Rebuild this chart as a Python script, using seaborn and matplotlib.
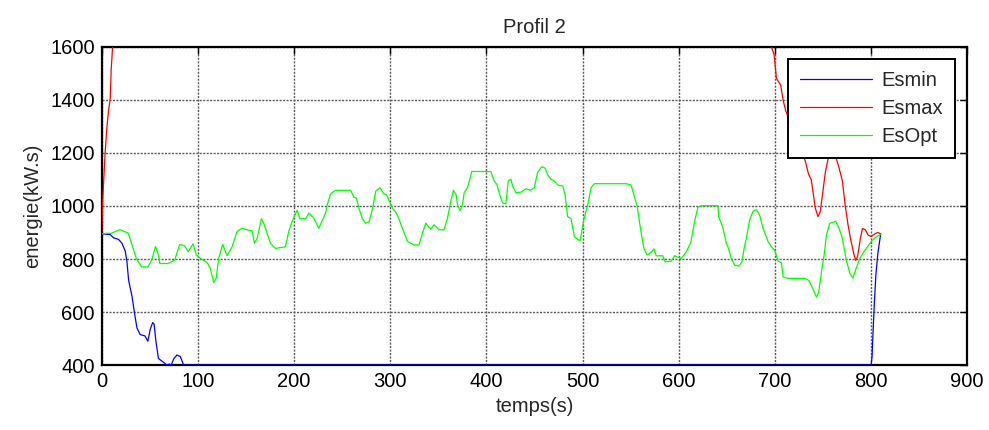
import numpy as np
import pandas as pd
import matplotlib
matplotlib.use("Agg")
import matplotlib.pyplot as plt
import seaborn as sns

# ---------------- data ----------------
opt_t = [0, 5, 10, 15, 19, 24, 27.6, 31, 36, 41.5, 48, 52, 56, 59, 60.5, 69, 76, 81, 86, 90,
         95, 98.5, 102.6, 109.6, 113, 116.5, 119, 121.6, 125.8, 130.4, 135.6, 140.8, 146,
         151.2, 156.4, 158.9, 161.7, 166.1, 168.5, 171.4, 175.5, 180.7, 191, 194.6, 198,
         203.3, 206, 212, 215.5, 220.6, 225.8, 232.8, 234.6, 238, 243.2, 258.9, 262.3, 264.8,
         267.5, 271, 274.5, 277.9, 281.4, 285, 289.4, 293, 296.4, 302.3, 306, 309, 312.7, 318,
         324.8, 330, 333.5, 337, 342.2, 345.6, 350.8, 356, 359.6, 363, 365.8, 368.5, 370,
         372.7, 375.2, 376.9, 380.4, 384.9, 404.7, 408.1, 410.9, 413.3, 416.9, 420.3, 422.7,
         425.5, 427.3, 430.7, 435.9, 441.1, 445.6, 449.8, 453.3, 457.5, 460.9, 463.8, 467.2,
         470.6, 474.2, 479.4, 481.8, 484.5, 488, 491.5, 497.4, 501.3, 505.4, 508.9, 512.3,
         545.3, 550.5, 553.3, 556.8, 560.2, 563.8, 567.2, 571.4, 574.2, 576.6, 583.5, 585.9,
         592.2, 595.6, 602.6, 607.8, 612.5, 616.5, 620, 623.4, 640.8, 641.5, 646, 649.5,
         651.2, 654.7, 658.1, 662.5, 665.8, 668, 670.3, 673.8, 677.3, 680.7, 684.2, 687.7,
         692.9, 696.4, 699.8, 703.3, 706.8, 708.6, 713.8, 731.1, 735.4, 739.8, 743.2, 745.6,
         748.4, 751.2, 753.6, 757.1, 763.2, 766.7, 770, 774, 778, 781, 784, 788, 793, 797,
         801, 806, 810]
opt_e = [895, 897, 897, 905, 911, 903, 898, 860, 802, 770, 770, 796, 847, 816, 783, 783, 796,
         854, 851, 828, 857, 815, 802, 787, 764, 711, 726, 802, 855, 812, 846, 904, 916, 910,
         906, 859, 878, 952, 935, 904, 859, 840, 846, 904, 942, 984, 952, 952, 973, 954, 916,
         973, 1005, 1046, 1059, 1059, 1033, 1030, 992, 952, 935, 939, 986, 1056, 1069, 1047,
         1041, 992, 975, 952, 916, 866, 853, 853, 897, 935, 912, 929, 910, 910, 954, 1018,
         1059, 1043, 1005, 982, 1005, 1050, 1069, 1130, 1130, 1094, 1082, 1050, 1011, 1008,
         1094, 1101, 1075, 1050, 1052, 1065, 1059, 1069, 1126, 1148, 1143, 1117, 1101, 1094,
         1079, 1075, 1043, 960, 952, 884, 868, 948, 1005, 1069, 1084, 1084, 1079, 1043, 999,
         916, 840, 815, 825, 838, 812, 812, 789, 792, 812, 802, 827, 862, 942, 995, 1001,
         1001, 960, 918, 859, 846, 802, 777, 773, 790, 840, 878, 948, 980, 986, 965, 916, 866,
         846, 833, 792, 786, 732, 727, 727, 719, 685, 656, 675, 751, 815, 891, 935, 942, 916,
         880, 800, 745, 728, 760, 800, 830, 850, 870, 885, 893]

min_t = [0, 9, 12.3, 17.5, 21, 24.5, 26.3, 28, 31.5, 34.2, 36.7, 40, 45, 48, 50.5, 53, 54.5,
         56.4, 59, 64.4, 67.9, 70.3, 72.4, 74.8, 78.3, 81.8, 85.2, 800, 801, 802, 803.5, 805,
         807, 809, 810]
min_e = [895, 892, 880, 874, 860, 830, 790, 720, 660, 595, 540, 515, 510, 490, 535, 560, 555,
         490, 425, 410, 400, 404, 400, 423, 438, 432, 400, 400, 430, 520, 640, 740, 820, 870,
         895]

max1_t = [0, 1, 3.5, 5.4, 7, 8.9, 9.9, 11.2, 12]
max1_e = [895, 1013, 1195, 1295, 1355, 1405, 1515, 1590, 1650]
max2_t = [694, 696.4, 699.2, 701.6, 706, 708.5, 711, 713, 720, 726, 731.6, 735, 737.8, 740.3,
          742, 744.8, 747.2, 749.7, 752.4, 754.9, 758, 762, 766.7, 770.2, 773, 776, 779, 782,
          784, 786, 789, 791, 794, 797, 800, 804, 807, 810]
max2_e = [1650, 1600, 1570, 1481, 1456, 1400, 1362, 1343, 1280, 1220, 1170, 1120, 1099, 1036,
          992, 960, 979, 1049, 1126, 1170, 1230, 1200, 1144, 1094, 1005, 930, 870, 820, 795,
          810, 880, 915, 910, 890, 885, 895, 900, 895]

series_names = ["Esmin", "Esmax", "EsOpt"]
x_ticks = [0, 100, 200, 300, 400, 500, 600, 700, 800, 900]
y_ticks = [400, 600, 800, 1000, 1200, 1400, 1600]

df = pd.concat([
    pd.DataFrame({"t": min_t, "E": min_e, "serie": "Esmin", "seg": "a"}),
    pd.DataFrame({"t": max1_t, "E": max1_e, "serie": "Esmax", "seg": "b"}),
    pd.DataFrame({"t": max2_t, "E": max2_e, "serie": "Esmax", "seg": "c"}),
    pd.DataFrame({"t": opt_t, "E": opt_e, "serie": "EsOpt", "seg": "d"}),
], ignore_index=True)

# ---------------- style ----------------
sns.set_style("white")
plt.rcParams["font.family"] = ["Liberation Sans", "DejaVu Sans"]
plt.rcParams["font.size"] = 14.5

fig = plt.figure(figsize=(9.89, 4.30), dpi=100)
ax = fig.add_axes([0.1028, 0.151, 0.8752, 0.740])

palette = {"Esmin": (0, 0, 1), "Esmax": (1, 0, 0), "EsOpt": (0, 1, 0)}
sns.lineplot(data=df, x="t", y="E", hue="serie", units="seg", estimator=None,
             hue_order=series_names, palette=palette, sort=False, linewidth=0.9,
             ax=ax, zorder=3)

ax.set_xlim(0, 900)
ax.set_ylim(400, 1600)
ax.set_xticks(x_ticks)
ax.set_yticks(y_ticks)
ax.set_xticklabels([str(v) for v in x_ticks])
ax.set_yticklabels([str(v) for v in y_ticks])

ax.grid(True, color="#5a5a5a", linestyle=(0, (1.5, 1)), linewidth=1.0)
ax.set_axisbelow(True)
for s in ax.spines.values():
    s.set_visible(True)
    s.set_color("black")
    s.set_linewidth(1.6)
ax.tick_params(direction="in", top=True, right=True, length=5, width=1,
               labelsize=14.5, pad=5, colors="black")

ax.set_title("Profil 2", fontsize=14.5, pad=10)
ax.set_xlabel("temps(s)", fontsize=14.5, labelpad=4)
ax.set_ylabel("energie(kW.s)", fontsize=14.5, labelpad=6)

leg = ax.legend(loc="upper right", bbox_to_anchor=(0.986, 0.962), frameon=True,
                fancybox=False, shadow=False, fontsize=14.5, handlelength=3.6,
                handletextpad=0.45, labelspacing=0.45, borderpad=0.6, borderaxespad=0)
leg.get_frame().set_edgecolor("black")
leg.get_frame().set_linewidth(1.4)
leg.get_frame().set_facecolor("white")
leg.get_frame().set_alpha(1)
for line in leg.get_lines():
    line.set_linewidth(0.9)
leg.set_zorder(10)

fig.savefig("out.png", dpi=100, facecolor="white")
